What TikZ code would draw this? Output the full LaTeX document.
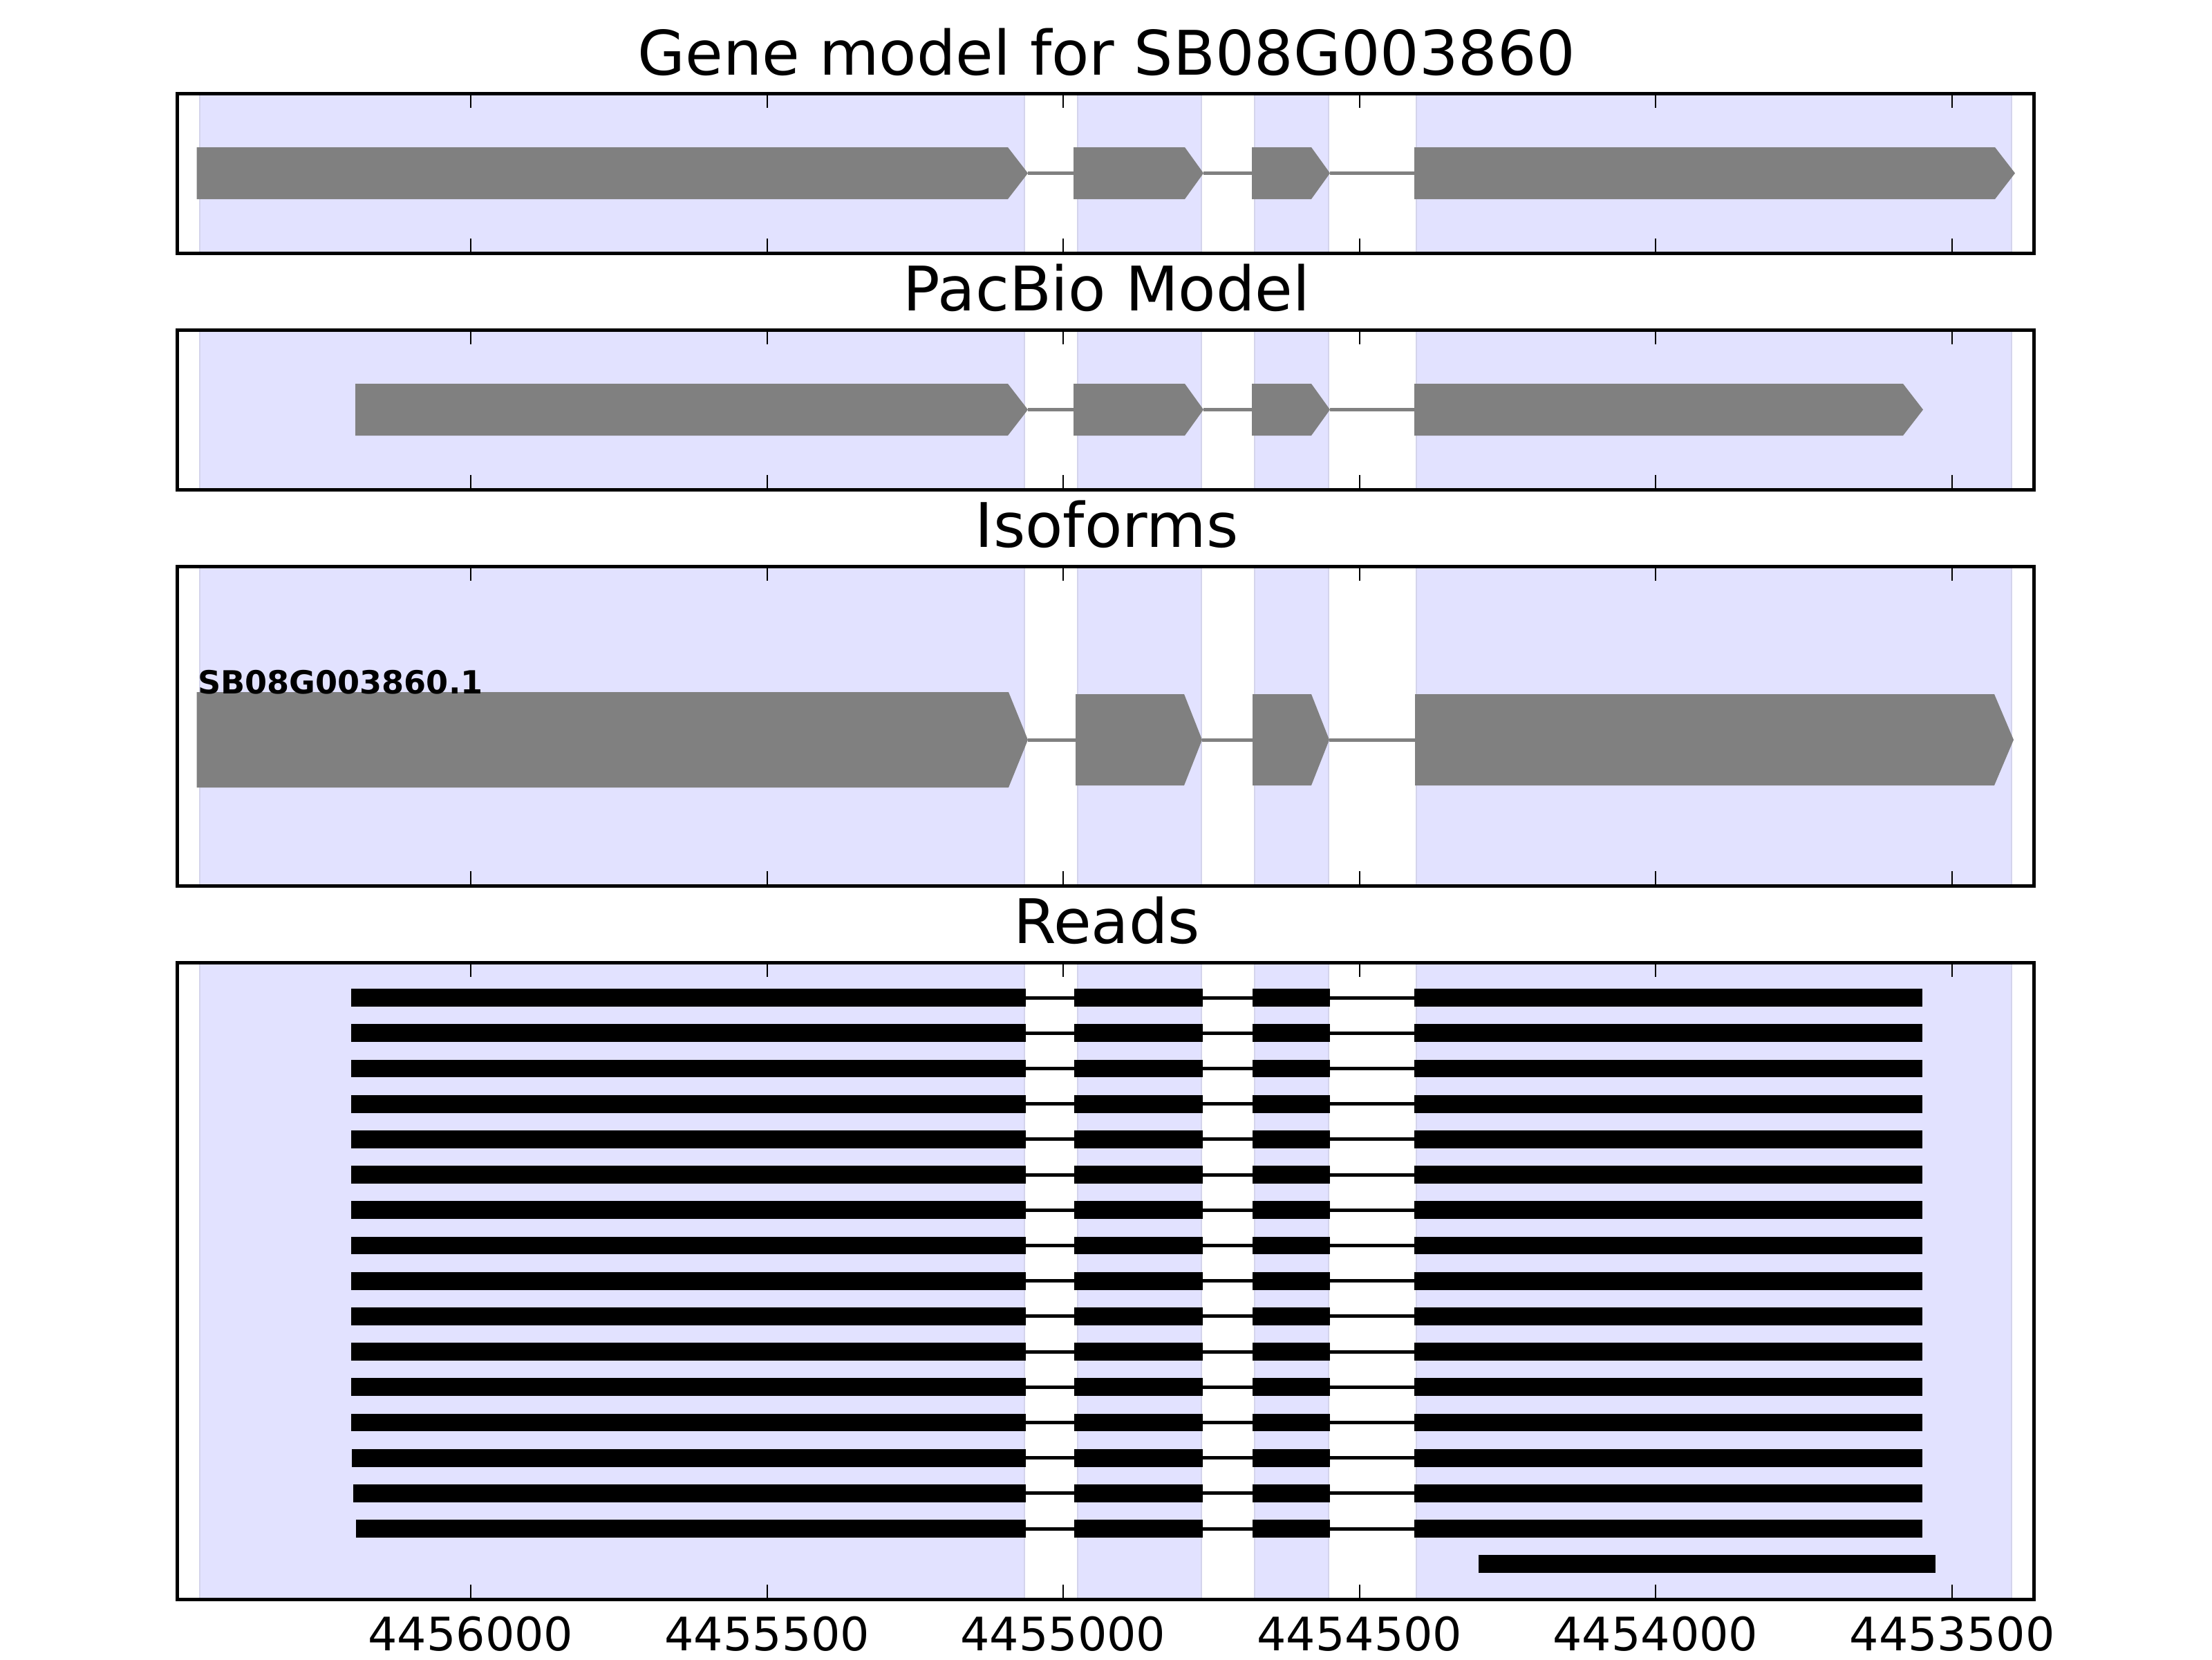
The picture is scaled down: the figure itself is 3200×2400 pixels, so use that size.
\documentclass[tikz,border=0pt]{standalone}
\usepackage{fontspec}
\setmainfont{DejaVu Sans}
\definecolor{spanfill}{RGB}{226,226,255}
\definecolor{spanedge}{RGB}{212,212,236}
\definecolor{exongray}{RGB}{128,128,128}
\newcommand\gexon[5]{\fill[exonshape] (#1,#4) -- (#2,#4) -- (#3,{(#4+#5)/2}) -- (#2,#5) -- (#1,#5) -- cycle;}
\begin{document}
\begin{tikzpicture}[x=0.18pt,y=-0.18pt,
  spine/.style={draw=black,line width=0.9pt},
  tickmark/.style={draw=black,line width=0.5pt},
  spanbox/.style={fill=spanfill,draw=spanedge,line width=0.45pt},
  exonshape/.style={fill=exongray},
  intron/.style={draw=exongray,line width=0.9pt},
  readblk/.style={fill=black},
  readint/.style={draw=black,line width=0.9pt},
  ptitle/.style={font=\fontsize{16}{19}\selectfont,anchor=base,inner sep=0pt},
  ticklab/.style={font=\fontsize{12}{14}\selectfont,anchor=base,inner sep=0pt},
  isolab/.style={font=\bfseries\fontsize{8.3}{10}\selectfont,anchor=base west,inner sep=0pt}]
\useasboundingbox (0,0) rectangle (3200,2400);

% shaded exon spans
\foreach \t/\b in {135/366,477/708,819/1281,1392/2313}{
  \foreach \a/\c in {289/1482,1559/1738,1815/1922,2049/2910}{
    \path[spanbox] (\a,\t) rectangle (\c,\b);
  }
}

% titles
\node[ptitle] (t1) at (1601,108) {Gene model for SB08G003860};
\node[ptitle] (t2) at (1601,449) {PacBio Model};
\node[ptitle] (t3) at (1601,791) {Isoforms};
\node[ptitle] (t4) at (1601,1364) {Reads};

% panel 1: gene model
\foreach \a/\c in {1487/1553,1741/1811,1924/2046}{
  \draw[intron] (\a,250.5) -- (\c,250.5);
}
\gexon{284.5}{1458}{1487}{213}{288}
\gexon{1553}{1714}{1741}{213}{288}
\gexon{1811}{1897}{1924}{213}{288}
\gexon{2046}{2886}{2915}{213}{288}

% panel 2: PacBio model
\foreach \a/\c in {1487/1553,1741/1811,1924/2046}{
  \draw[intron] (\a,592.5) -- (\c,592.5);
}
\gexon{514}{1458}{1487}{555}{630}
\gexon{1553}{1714}{1741}{555}{630}
\gexon{1811}{1897}{1924}{555}{630}
\gexon{2046}{2753}{2782}{555}{630}

% panel 3: isoforms
\foreach \a/\c in {1487/1556,1739/1812,1923/2047}{
  \draw[intron] (\a,1070) -- (\c,1070);
}
\gexon{284.5}{1459}{1487}{1001}{1139}
\gexon{1556}{1713}{1739}{1004}{1136}
\gexon{1812}{1897}{1923}{1004}{1136}
\gexon{2047}{2885}{2913}{1004}{1136}
\node[isolab] (iso) at (285,1003) {SB08G003860.1};

% panel 4: reads
\foreach \i/\s in {0/508,1/508,2/508,3/508,4/508,5/508,6/508,7/508,8/508,9/508,10/508,11/508,12/508,13/509,14/511,15/515}{
  \pgfmathsetmacro\cy{1443+51.2*\i}
  \draw[readint] (1484,\cy) -- (1554,\cy) (1740,\cy) -- (1812,\cy) (1924,\cy) -- (2046,\cy);
  \fill[readblk] (\s,\cy-12.9) rectangle (1484,\cy+12.9);
  \fill[readblk] (1554,\cy-12.9) rectangle (1740,\cy+12.9);
  \fill[readblk] (1812,\cy-12.9) rectangle (1924,\cy+12.9);
  \fill[readblk] (2046,\cy-12.9) rectangle (2781,\cy+12.9);
}
\fill[readblk] (2139,2249.3) rectangle (2800,2275.2);

% ticks and spines
\foreach \t/\b in {135/366,477/708,819/1281,1392/2313}{
  \foreach \x in {681,1110,1538,1967,2395,2824}{
    \draw[tickmark] (\x,\t) -- (\x,\t+21);
    \draw[tickmark] (\x,\b) -- (\x,\b-21);
  }
  \draw[spine] (256,\t) rectangle (2942,\b);
}

% tick labels
\foreach \x/\l in {681/4456000,1110/4455500,1538/4455000,1967/4454500,2395/4454000,2824/4453500}{
  \node[ticklab] at (\x,2387) {\l};
}
\end{tikzpicture}
\end{document}
